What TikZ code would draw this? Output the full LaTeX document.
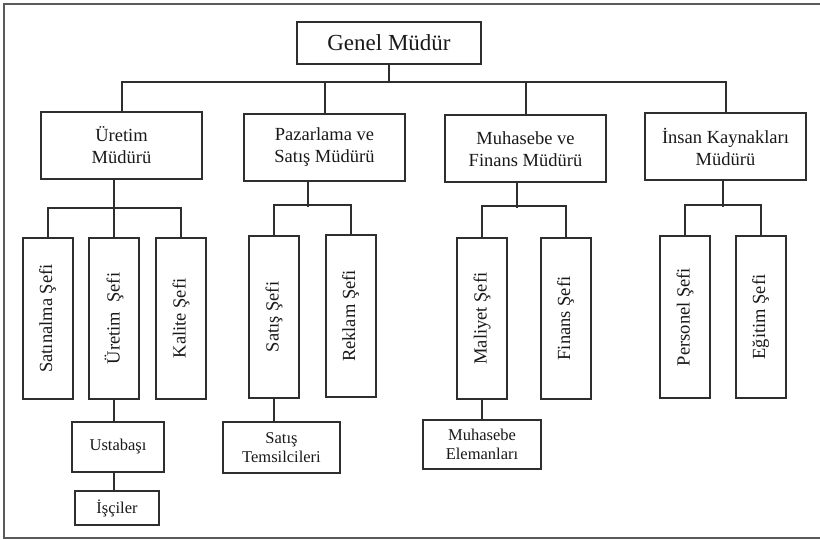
\documentclass[tikz,border=0pt]{standalone}
\usepackage{fontspec}
\setmainfont{Liberation Serif}
\usepackage{tikz}
\usetikzlibrary{positioning}

\definecolor{linegray}{HTML}{2E2E2E}
\definecolor{framegray}{HTML}{5A5A5A}

\tikzset{
  unit/.style={draw=linegray, line width=2pt, inner sep=0pt, align=center, text=black!90},
  head/.style={unit, minimum width=184pt, minimum height=42pt, font=\fontsize{23}{27}\selectfont},
  dept/.style={unit, minimum width=161pt, minimum height=67pt, font=\fontsize{18.5}{22}\selectfont},
  chief/.style={unit, rotate=90, minimum width=161pt, minimum height=50pt, font=\fontsize{18.5}{21}\selectfont},
  staff/.style={unit, font=\fontsize{16.5}{19}\selectfont},
  link/.style={draw=linegray, line width=2pt}
}

\begin{document}
\begin{tikzpicture}[x=1pt, y=-1pt]
		\useasboundingbox (0,0) rectangle (820,540);
		\draw[framegray, line width=2.2pt] (820,4) -- (4,4) -- (4,538) -- (820,538);
		
		\node[head](gm) at (389,43) {Genel Müdür};
		
		\node[dept](uret) at (121.5,145.5) {Üretim\\Müdürü};
		\node[dept](paz) at (324.5,147.5) {Pazarlama ve\\Satış Müdürü};
		\node[dept](muh) at (525.5,149) {Muhasebe ve\\Finans Müdürü};
		\node[dept](ik) at (725.5,146.5) {İnsan Kaynakları\\Müdürü};
		
		\node[chief](satin) at (47.5,318.5) {Satınalma Şefi};
		\node[chief](ursef) at (114,318.5) {Üretim\enspace Şefi};
		\node[chief](kalite) at (181,318.5) {Kalite Şefi};
		\node[chief](ssef) at (274,317) {Satış Şefi};
		\node[chief](reklam) at (350.5,316) {Reklam Şefi};
		\node[chief](maliyet) at (482,318.5) {Maliyet Şefi};
		\node[chief](finans) at (565.5,318.5) {Finans Şefi};
		\node[chief](personel) at (685,317) {Personel Şefi};
		\node[chief](egitim) at (760.5,317) {Eğitim Şefi};
		
		\node[staff, minimum width=92pt, minimum height=50pt](usta) at (118,447) {Ustabaşı};
		\node[staff, minimum width=84pt, minimum height=34pt](isci) at (117,508) {İşçiler};
		\node[staff, minimum width=117pt, minimum height=51pt](temsil) at (281.5,447.5) {Satış\\Temsilcileri};
		\node[staff, minimum width=118pt, minimum height=49pt](eleman) at (482,444.5) {Muhasebe\\Elemanları};
		
		\foreach \d in {uret,paz,muh,ik}
			\draw[link] (gm.south) -- ++(0,17) -| (\d.north);
		
		\draw[link] (ursef.east |- uret.south) -- (ursef.east);
		\draw[link] (satin.east) -- ++(0,-29) -| (kalite.east);
		\draw[link] ([xshift=-17pt]paz.south) -- ++(0,25);
		\draw[link] (ssef.east) -- ++(0,-30) -| (reklam.east);
		\draw[link] ([xshift=-9pt]muh.south) -- ++(0,25);
		\draw[link] (maliyet.east) -- ++(0,-31) -| (finans.east);
		\draw[link] ([xshift=-3pt]ik.south) -- ++(0,26);
		\draw[link] (personel.east) -- ++(0,-30) -| (egitim.east);
		
		\draw[link] (ursef.west) -- (ursef.west |- usta.north);
		\draw[link] (ursef.west |- usta.south) -- (ursef.west |- isci.north);
		\draw[link] (ssef.west) -- (ssef.west |- temsil.north);
		\draw[link] (maliyet.west) -- (maliyet.west |- eleman.north);
	\end{tikzpicture}
\end{document}
